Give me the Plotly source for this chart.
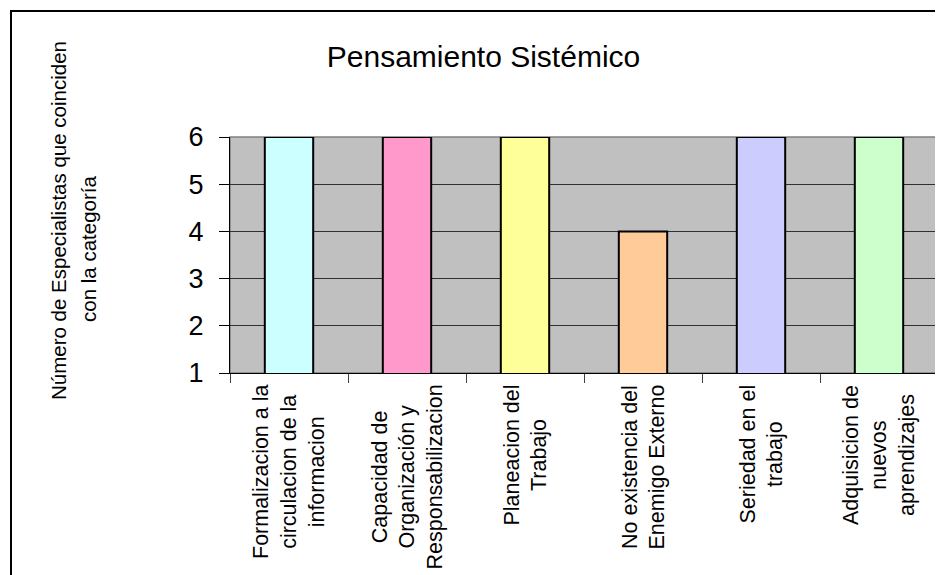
import plotly.graph_objects as go

categories = [
    "Formalizacion a la<br>circulacion de la<br>informacion",
    "Capacidad de<br>Organización y<br>Responsabilizacion",
    "Planeacion del<br>Trabajo",
    "No existencia del<br>Enemigo Externo",
    "Seriedad en el<br>trabajo",
    "Adquisicion de<br>nuevos<br>aprendizajes",
]
values = [6, 6, 6, 4, 6, 6]
bar_colors = ["#CCFFFF", "#FF99CC", "#FFFF99", "#FFCC99", "#CCCCFF", "#CCFFCC"]
y_ticks = [1, 2, 3, 4, 5, 6]
title_text = "Pensamiento Sistémico"
ytitle_lines = ["Número de Especialistas que coinciden", "con la categoría"]

FONT = "Liberation Sans, Arial, sans-serif"
OFF = 8  # page body margin
W, H = 943 - OFF, 575 - OFF
L, R, T, B = 222, 5, 129, 202
PW, PH = W - L - R, H - T - B


def px_to_paper_x(px):
    return (px - OFF - L) / PW


def px_to_paper_y(py):
    return (H - B - (py - OFF)) / PH


fig = go.Figure()
fig.add_trace(go.Bar(
    x=categories,
    y=values,
    width=0.41,
    marker=dict(color=bar_colors, line=dict(color="black", width=2)),
    showlegend=False,
    hoverinfo="x+y",
))

annotations = []
for c in categories:
    annotations.append(dict(
        x=c, xref="x", y=0, yref="paper",
        text=c, textangle=-90, align="center",
        xanchor="center", yanchor="top", yshift=-10,
        showarrow=False,
        font=dict(family=FONT, size=21.5, color="black"),
    ))

annotations.append(dict(
    x=px_to_paper_x(58), y=px_to_paper_y(221), xref="paper", yref="paper",
    text=ytitle_lines[0], textangle=-90, xanchor="center", yanchor="middle",
    showarrow=False, font=dict(family=FONT, size=20.5, color="black"),
))
annotations.append(dict(
    x=px_to_paper_x(88), y=px_to_paper_y(249), xref="paper", yref="paper",
    text=ytitle_lines[1], textangle=-90, xanchor="center", yanchor="middle",
    showarrow=False, font=dict(family=FONT, size=20.5, color="black"),
))

shapes = [
    dict(type="rect", xref="paper", yref="paper", x0=0, y0=0, x1=1, y1=1,
         line=dict(color="#808080", width=1.5), layer="below"),
    dict(type="rect", xref="paper", yref="paper",
         x0=px_to_paper_x(11), y0=px_to_paper_y(600),
         x1=px_to_paper_x(960), y1=px_to_paper_y(11),
         line=dict(color="black", width=2), fillcolor="rgba(0,0,0,0)", layer="above"),
]

fig.update_layout(
    width=W, height=H,
    margin=dict(l=L, r=R, t=T, b=B, pad=0),
    paper_bgcolor="white",
    plot_bgcolor="#C0C0C0",
    font=dict(family=FONT, color="black"),
    title=dict(text=title_text, x=(483.5 - OFF) / W, xref="container", xanchor="center",
               y=1 - (56 - OFF) / H, yref="container", yanchor="middle",
               font=dict(family=FONT, size=30, color="black")),
    annotations=annotations,
    shapes=shapes,
    bargap=0.59,
)
fig.update_xaxes(
    showticklabels=False,
    ticks="outside", tickson="boundaries", ticklen=9, tickcolor="#404040", tickwidth=1,
    showline=True, linecolor="black", linewidth=1,
    showgrid=False, zeroline=False,
)
fig.update_yaxes(
    range=[1, 6], tickvals=y_ticks, ticktext=[str(v) for v in y_ticks],
    ticks="outside", ticklen=10, tickcolor="black", tickwidth=1,
    ticklabelstandoff=10,
    tickfont=dict(family=FONT, size=27, color="black"),
    showline=True, linecolor="black", linewidth=1,
    showgrid=True, gridcolor="#303030", gridwidth=1,
    zeroline=False,
)

fig.write_html("out.html")
